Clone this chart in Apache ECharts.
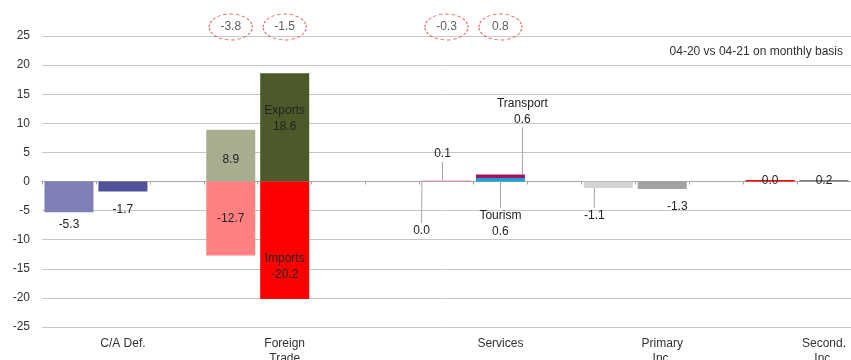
<!DOCTYPE html>
<html>
<head>
<meta charset="utf-8">
<title>Current account components</title>
<script src="https://cdn.jsdelivr.net/npm/echarts@6/dist/echarts.min.js"></script>
<style>
  html, body { margin: 0; padding: 0; background: #fff; }
  #chart { width: 851px; height: 360px; }
</style>
</head>
<body>
<div id="chart"></div>
<script>
// category slots: two bars per group, with empty spacer slots between groups
const slots = ['ca0', 'ca1', 'gap0', 'ft0', 'ft1', 'gap1', 'gap2', 'sv0', 'sv1', 'gap3', 'pi0', 'pi1', 'gap4', 'si0', 'si1'];
const groupLabels = ['', 'C/A Def.', '', '', 'Foreign\nTrade', '', '', '', 'Services', '', '', 'Primary\nInc.', '', '', 'Second.\nInc.'];

// values (bn), 04-20 bar first, 04-21 bar second
const caDef = [-5.3, -1.7];
const tradeExports = [8.9, 18.6];
const tradeImports = [-12.7, -20.2];
const servicesPrev = [0.1, 0.0];
const servicesNow = [0.6, 0.6]; // tourism, transport
const primaryInc = [-1.1, -1.3];
const secondInc = [0.04, 0.2];

// net changes shown in the dashed ellipses
const netSlots = ['ft0', 'ft1', 'sv0', 'sv1'];
const netChange = [-3.8, -1.5, -0.3, 0.8];

const FONT = '"Liberation Sans", Arial, sans-serif';
const TEXT = '#333';

const chart = echarts.init(document.getElementById('chart'));

const slotData = (slot, value) => slots.map(s => (s === slot ? value : null));

// one stacked bar segment in a single slot
const bar = (slot, value, color, opts = {}) => ({
  type: 'bar',
  stack: 'all',
  barWidth: 49,
  barMinHeight: opts.minHeight || 0,
  data: slotData(slot, value),
  itemStyle: { color: color },
  label: {
    show: true,
    position: 'inside',
    color: '#222',
    fontFamily: FONT,
    fontSize: 12,
    lineHeight: 16,
    formatter: p => (opts.text ? opts.text + '\n' : '') + p.value.toFixed(1)
  },
  labelLayout: { dx: opts.dx || 0, dy: opts.dy || 0 },
  labelLine: {
    show: !!opts.line,
    lineStyle: { color: '#a6a6a6', width: 1 }
  }
});

const option = {
  animation: false,
  textStyle: { fontFamily: FONT },
  title: {
    text: '04-20 vs 04-21 on monthly basis',
    right: 8,
    top: 46,
    padding: 0,
    textStyle: { fontSize: 12, fontWeight: 'normal', color: TEXT, fontFamily: FONT }
  },
  grid: [
    { left: 42, right: 0, top: 36, bottom: 33, outerBoundsMode: 'none' },
    { left: 42, right: 0, top: 12, height: 30, outerBoundsMode: 'none' }
  ],
  xAxis: [
    {
      type: 'category',
      data: slots,
      axisLine: { onZero: true, lineStyle: { color: '#a6a6a6' } },
      axisTick: { show: true, length: 3, lineStyle: { color: '#a6a6a6' } },
      axisLabel: { show: false }
    },
    {
      type: 'category',
      data: slots,
      position: 'bottom',
      axisLine: { show: false, onZero: false },
      axisTick: { show: false },
      axisLabel: {
        interval: 0,
        margin: 9,
        color: TEXT,
        fontSize: 12,
        lineHeight: 15,
        fontFamily: FONT,
        formatter: (v, i) => groupLabels[i]
      }
    },
    { gridIndex: 1, type: 'category', data: slots, show: false }
  ],
  yAxis: [
    {
      type: 'value',
      min: -25,
      max: 25,
      interval: 5,
      axisLine: { show: false },
      axisTick: { show: false },
      axisLabel: { color: TEXT, fontSize: 12, margin: 12, fontFamily: FONT },
      splitLine: { lineStyle: { color: '#c6c6c6' } }
    },
    { gridIndex: 1, type: 'value', min: 0, max: 1, show: false }
  ],
  series: [
    bar('ca0', caDef[0], '#7f7fb6', { dy: 28 }),
    bar('ca1', caDef[1], '#52529c', { dy: 23 }),
    bar('ft0', tradeExports[0], '#a7ae8f', { dy: 4 }),
    bar('ft0', tradeImports[0], '#ff8080'),
    bar('ft1', tradeExports[1], '#4b5a28', { text: 'Exports', dy: -9 }),
    bar('ft1', tradeImports[1], '#ff0000', { text: 'Imports', dy: 26 }),
    bar('sv0', servicesPrev[0], '#e58bbd', { dx: -4, dy: -27, line: true, minHeight: 1 }),
    bar('sv0', servicesPrev[1], '#f0b0d0', { dx: -25, dy: 50, line: true }),
    bar('sv1', servicesNow[0], '#1e9fd8', { text: 'Tourism', dy: 44, line: true }),
    bar('sv1', servicesNow[1], '#a3155f', { text: 'Transport', dx: 22, dy: -65, line: true }),
    bar('pi0', primaryInc[0], '#d3d3d3', { dx: -14, dy: 31, line: true }),
    bar('pi1', primaryInc[1], '#a3a3a3', { dx: 15, dy: 21 }),
    bar('si0', secondInc[0], '#ff0000', { minHeight: 1.5 }),
    bar('si1', secondInc[1], '#7f7f7f', { minHeight: 1.5 }),
    {
      type: 'scatter',
      xAxisIndex: 2,
      yAxisIndex: 1,
      silent: true,
      data: netSlots.map((s, i) => [s, 0.5, netChange[i]]),
      symbol: 'path://M0,50A50,50,0,1,1,100,50A50,50,0,1,1,0,50Z',
      symbolSize: [43, 26],
      itemStyle: {
        color: 'rgba(0,0,0,0)',
        borderColor: '#f03c3c',
        borderWidth: 1,
        borderType: [3, 2]
      },
      label: {
        show: true,
        position: 'inside',
        color: TEXT,
        fontSize: 12,
        fontFamily: FONT,
        formatter: p => p.value[2].toFixed(1)
      }
    }
  ]
};

chart.setOption(option);
</script>
</body>
</html>
